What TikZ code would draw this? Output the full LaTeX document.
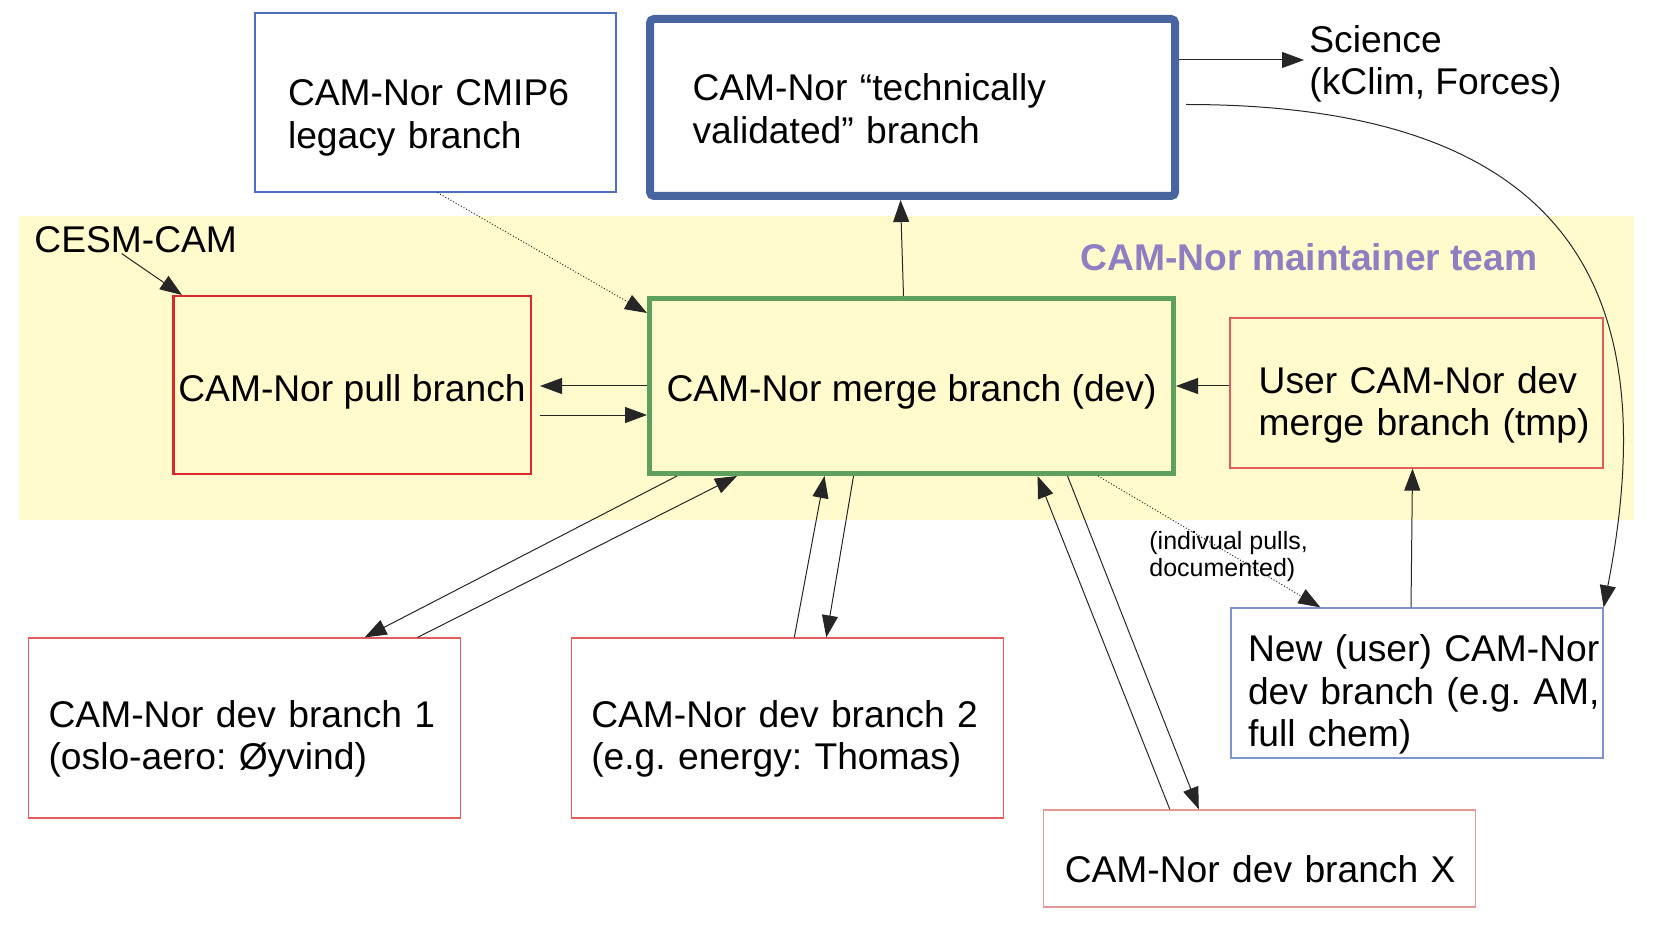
\documentclass[tikz,border=0pt]{standalone}
\usepackage{fontspec}
\setmainfont{Liberation Sans}
\usetikzlibrary{arrows.meta}

\definecolor{bandyellow}{RGB}{255,251,204}
\definecolor{mergegreen}{RGB}{94,160,94}
\definecolor{pullred}{RGB}{218,40,44}
\definecolor{devred}{RGB}{226,92,92}
\definecolor{devpink}{RGB}{232,150,150}
\definecolor{validblue}{RGB}{73,101,161}
\definecolor{thinblue}{RGB}{78,110,190}
\definecolor{newblue}{RGB}{125,148,205}
\definecolor{teampurple}{RGB}{143,127,194}

\begin{document}
\begin{tikzpicture}[x=0.5pt,y=-0.5pt,
  font=\fontsize{18.6pt}{21.2pt}\selectfont\frenchspacing,
  box/.style={draw,rectangle,inner sep=0pt,align=left},
  thinbox/.style={box,line width=0.6pt},
  padl/.style={execute at begin node={\leftskip=#1}},
  conn/.style={draw=black!85,line width=0.5pt,-{Triangle[length=11pt,width=8pt]}},
  pulls/.style={conn,densely dotted}]
\useasboundingbox (0,0) rectangle (1653,930);

% maintainer team area
\fill [bandyellow] (19,216) rectangle (1634,520);
\node [anchor=west,inner sep=0pt] (cesm) at (34,240) {CESM-CAM};
\node [font=\fontsize{18.6pt}{21.2pt}\selectfont\bfseries,text=teampurple] (team) at (1309,257) {CAM-Nor maintainer team};

% branches
\node [thinbox,draw=thinblue,minimum width=180.5pt,minimum height=89.5pt,text width=178.5pt,padl=15.5pt,text height=28.4pt] (legacy) at (435.5,102.5) {CAM-Nor CMIP6\\legacy branch};
\node [box,draw=validblue,line width=4pt,rounded corners=2pt,minimum width=262.5pt,minimum height=88.5pt,text width=220pt,text height=14.6pt] (valid) at (912.5,107.5) {CAM-Nor “technically\\validated” branch};
\node [anchor=west,inner sep=2.5pt,align=left] (science) at (1304,64) {Science\\(kClim, Forces)};
\node [box,draw=pullred,line width=1.25pt,minimum width=178.75pt,minimum height=88.75pt,align=center,text height=20pt] (pull) at (352,385) {CAM-Nor pull branch};
\node [box,draw=mergegreen,line width=2.5pt,minimum width=262pt,minimum height=87.5pt,align=center,text height=19pt] (merge) at (911.5,386) {CAM-Nor merge branch (dev)};
\node [thinbox,draw=devred,minimum width=186.5pt,minimum height=75pt,text width=184.5pt,padl=13.35pt,text height=25.2pt] (user) at (1416.5,393) {User CAM-Nor dev\\merge branch (tmp)};
\node [thinbox,draw=newblue,minimum width=186pt,minimum height=75pt,text width=184pt,padl=7.5pt,text height=25.2pt] (new) at (1417,683) {New (user) CAM-Nor\\dev branch (e.g. AM,\\full chem)};
\node [thinbox,draw=devred,minimum width=216pt,minimum height=90pt,text width=214pt,padl=9pt,text height=24.2pt] (dev1) at (244.6,728) {CAM-Nor dev branch 1\\(oslo-aero: Øyvind)};
\node [thinbox,draw=devred,minimum width=216pt,minimum height=90pt,text width=214pt,padl=9pt,text height=24.2pt] (dev2) at (787.3,728) {CAM-Nor dev branch 2\\(e.g. energy: Thomas)};
\node [thinbox,draw=devpink,minimum width=216pt,minimum height=48.5pt,text width=214pt,padl=9.5pt,text height=24.4pt] (devx) at (1259.8,858.4) {CAM-Nor dev branch X};
\node [anchor=west,inner sep=0pt,align=left,font=\fontsize{12.5pt}{13.7pt}\selectfont] (pullnote) at (1149,556.5) {(indivual pulls,\\documented)};

% connectors
\coordinate (scin) at ([yshift=2pt]science.west);
\draw [conn] ([xshift=-7pt]cesm.south) -- ([xshift=5pt]pull.north west);
\draw [pulls] ([xshift=1pt]legacy.south) -- ([yshift=-8.5pt]merge.north west);
\draw [conn] ([xshift=-4pt]merge.north) -- ([xshift=-6pt]valid.south);
\draw [conn] (valid.east |- scin) -- (scin);
\draw [conn] ([xshift=3.5pt,yshift=1.5pt]valid.east) .. controls +(400,0) and +(59,-301) .. (new.north east);
\coordinate (pullhigh) at ([xshift=4pt]pull.east |- merge.west);
\coordinate (pulllow) at ([xshift=4pt,yshift=-15pt]pull.east);
\draw [conn] (merge.west) -- (pullhigh);
\draw [conn] (pulllow) -- (pulllow -| merge.west);
\draw [conn] (user.west |- merge.east) -- (merge.east);
\draw [conn] ([xshift=-3pt]new.north) -- ([xshift=-2pt]user.south);
\draw [pulls] ([xshift=-39pt]merge.south east) -- ([xshift=45pt]new.north west);
\draw [conn] ([xshift=15pt]merge.south west) -- ([xshift=60pt]dev1.north);
\draw [conn] ([xshift=86.5pt]dev1.north) -- ([xshift=45pt]merge.south west);
\draw [conn] ([xshift=3.5pt]dev2.north) -- ([xshift=-43.5pt]merge.south);
\draw [conn] ([xshift=-29pt]merge.south) -- ([xshift=19.5pt]dev2.north);
\draw [conn] ([xshift=-45pt]devx.north) -- ([xshift=63pt]merge.south);
\draw [conn] ([xshift=78pt]merge.south) -- ([xshift=-30.5pt]devx.north);
\end{tikzpicture}
\end{document}
